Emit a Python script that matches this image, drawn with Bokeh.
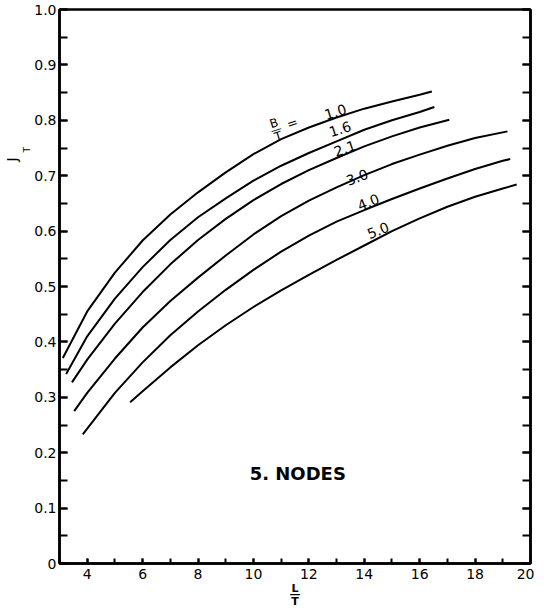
import math
from bokeh.plotting import figure
from bokeh.models import Range1d, LinearAxis, SingleIntervalTicker, Label, Title, CustomJSTickFormatter
from bokeh.embed import file_html
from bokeh.resources import INLINE

# ---- data (x = L/T, y = J_T) ----
bt_labels = ["1.0", "1.6", "2.1", "3.0", "4.0", "5.0"]

x_bt10 = [3.12, 4, 5, 6, 7, 8, 9, 10, 11, 12, 13, 14, 15, 16, 16.44]
y_bt10 = [0.371, 0.455, 0.525, 0.583, 0.630, 0.670, 0.706, 0.739, 0.766, 0.787, 0.805, 0.821, 0.834, 0.846, 0.852]

x_bt16 = [3.24, 4, 5, 6, 7, 8, 9, 10, 11, 12, 13, 14, 15, 16, 16.53]
y_bt16 = [0.342, 0.410, 0.478, 0.535, 0.584, 0.625, 0.659, 0.691, 0.718, 0.741, 0.762, 0.783, 0.800, 0.815, 0.824]

x_bt21 = [3.45, 4, 5, 6, 7, 8, 9, 10, 11, 12, 13, 14, 15, 16, 17.07]
y_bt21 = [0.327, 0.368, 0.433, 0.490, 0.540, 0.584, 0.622, 0.656, 0.685, 0.710, 0.732, 0.753, 0.771, 0.787, 0.801]

x_bt30 = [3.53, 4, 5, 6, 7, 8, 9, 10, 11, 12, 13, 14, 15, 16, 17, 18, 19.17]
y_bt30 = [0.275, 0.308, 0.370, 0.426, 0.474, 0.516, 0.556, 0.594, 0.627, 0.655, 0.679, 0.701, 0.721, 0.738, 0.754, 0.768, 0.780]

x_bt40 = [3.84, 5, 6, 7, 8, 9, 10, 11, 12, 13, 14, 15, 16, 17, 18, 19, 19.27]
y_bt40 = [0.233, 0.308, 0.363, 0.412, 0.455, 0.494, 0.530, 0.563, 0.592, 0.617, 0.638, 0.658, 0.677, 0.695, 0.712, 0.727, 0.730]

x_bt50 = [5.55, 6, 7, 8, 9, 10, 11, 12, 13, 14, 15, 16, 17, 18, 19, 19.5]
y_bt50 = [0.291, 0.311, 0.354, 0.394, 0.430, 0.463, 0.493, 0.521, 0.548, 0.574, 0.600, 0.623, 0.644, 0.662, 0.677, 0.684]

xs_all = [x_bt10, x_bt16, x_bt21, x_bt30, x_bt40, x_bt50]
ys_all = [y_bt10, y_bt16, y_bt21, y_bt30, y_bt40, y_bt50]

y_tick_labels = {0: "0", 0.1: "0.1", 0.2: "0.2", 0.3: "0.3", 0.4: "0.4", 0.5: "0.5",
                 0.6: "0.6", 0.7: "0.7", 0.8: "0.8", 0.9: "0.9", 1.0: "1.0"}

# ---- layout of curve labels (position in data space, rotation) ----
label_pos_x = [12.96, 13.13, 13.30, 13.74, 14.15, 14.50]
label_pos_y = [0.815, 0.784, 0.749, 0.697, 0.652, 0.601]
label_angle = [17, 18, 19, 21, 22, 22]

FONT = "DejaVu Sans"

p = figure(frame_width=471, frame_height=554,
           x_range=Range1d(3, 20), y_range=Range1d(0, 1.0),
           output_backend="svg", toolbar_location=None,
           min_border_left=59, min_border_right=4, min_border_top=9, min_border_bottom=45,
           background_fill_color="white", border_fill_color="white")
p.grid.visible = False
p.outline_line_color = "black"
p.outline_line_width = 2.5

p.xaxis.ticker = SingleIntervalTicker(interval=2, num_minor_ticks=2)
p.yaxis.ticker = SingleIntervalTicker(interval=0.1, num_minor_ticks=2)
p.yaxis.major_label_overrides = y_tick_labels

for ax in (p.xaxis[0], p.yaxis[0]):
    ax.axis_line_width = 2.5
    ax.axis_line_color = "black"
    ax.major_tick_out = 0
    ax.minor_tick_out = 0
    ax.major_tick_line_width = 2
    ax.minor_tick_line_width = 2
    ax.major_label_text_font = FONT
    ax.major_label_text_font_size = "14px"
    ax.major_label_text_color = "black"

p.xaxis.major_tick_in = 5
p.xaxis.minor_tick_in = 5
p.xaxis.major_label_standoff = 5
p.yaxis.major_tick_in = 8
p.yaxis.minor_tick_in = 8
p.yaxis.major_label_standoff = 3

# x axis title: the fraction L over T
p.xaxis.axis_label = "L\n\u2014\nT"
p.xaxis.axis_label_text_font = FONT
p.xaxis.axis_label_text_font_size = "11px"
p.xaxis.axis_label_text_font_style = "bold"
p.xaxis.axis_label_text_color = "black"
p.xaxis.axis_label_text_line_height = 0.5
p.xaxis.axis_label_standoff = 0

# y axis title J_T placed up the axis with titles on the left
p.add_layout(Title(text="T", align="left", offset=411, standoff=0, text_color="black",
                   text_font=FONT, text_font_size="9px", text_font_style="normal"), "left")
p.add_layout(Title(text="J", align="left", offset=402, standoff=0, text_color="black",
                   text_font=FONT, text_font_size="14px", text_font_style="normal"), "left")

# right frame axis (ticks only)
right = LinearAxis(ticker=SingleIntervalTicker(interval=0.1, num_minor_ticks=2),
                   formatter=CustomJSTickFormatter(code="return ''"),
                   major_label_standoff=0,
                   major_tick_out=0, minor_tick_out=0, major_tick_in=8, minor_tick_in=8,
                   axis_line_width=2.5, major_tick_line_width=2, minor_tick_line_width=2)
p.add_layout(right, "right")

# curves
for xs, ys in zip(xs_all, ys_all):
    p.line(xs, ys, line_color="black", line_width=2)

# curve labels
for txt, lx, ly, ang in zip(bt_labels, label_pos_x, label_pos_y, label_angle):
    p.add_layout(Label(x=lx, y=ly, text=txt, angle=ang, angle_units="deg",
                       text_align="center", text_baseline="middle",
                       text_font=FONT, text_font_size="14px", text_color="black"))

# B/T = (rotated fraction)
th = math.radians(18)
fx, fy = 10.82, 0.783
for txt, off, size in (("B", 7, "12px"), ("\u2014", 0, "11px"), ("T", -7, "12px")):
    p.add_layout(Label(x=fx, y=fy, text=txt, angle=18, angle_units="deg",
                       x_offset=-math.sin(th) * off, y_offset=math.cos(th) * off,
                       text_align="center", text_baseline="middle",
                       text_font=FONT, text_font_size=size, text_color="black"))
p.add_layout(Label(x=11.40, y=0.795, text="=", angle=18, angle_units="deg",
                   text_align="center", text_baseline="middle",
                   text_font=FONT, text_font_size="13px", text_color="black"))

# 5. NODES
p.add_layout(Label(x=11.6, y=0.162, text="5. NODES", text_align="center",
                   text_baseline="middle", text_font=FONT, text_font_size="18px",
                   text_font_style="bold", text_color="black"))

open("out.html", "w").write(file_html(p, INLINE))
